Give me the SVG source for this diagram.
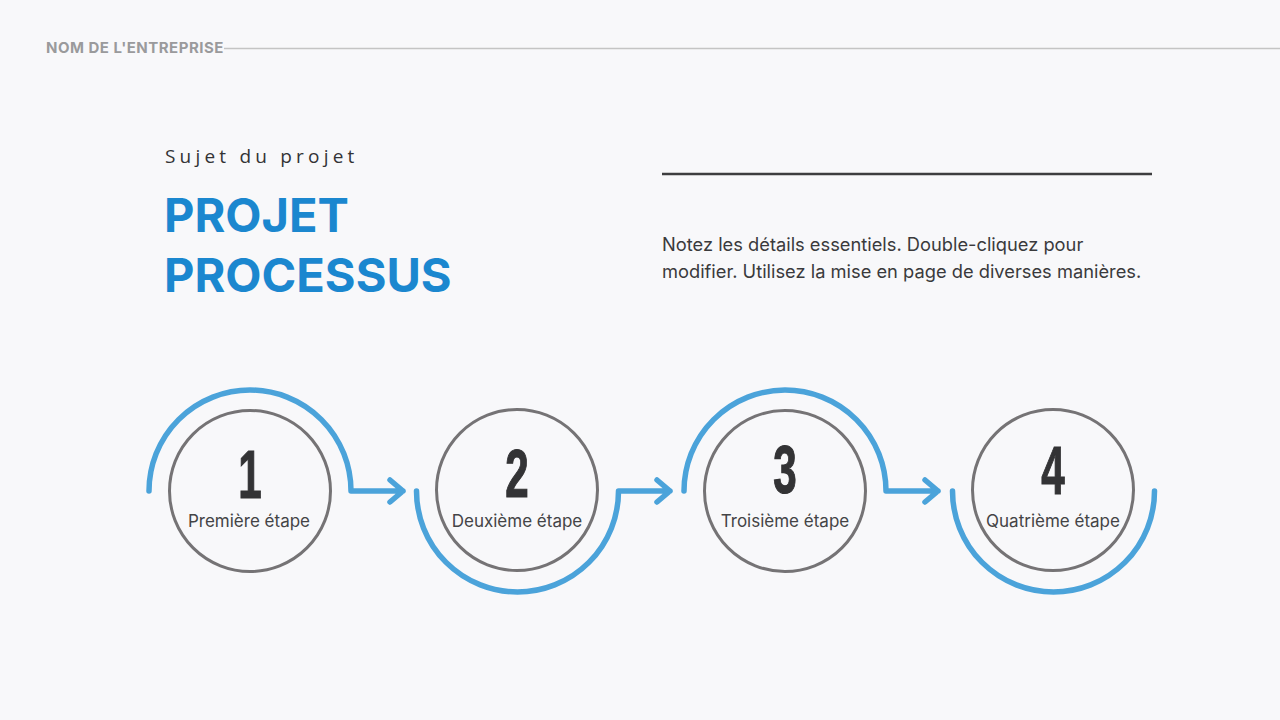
<svg xmlns="http://www.w3.org/2000/svg" width="1280" height="720" viewBox="0 0 1280 720">
<style>
.step{fill:none;stroke:#757375;stroke-width:3}
.flow{fill:none;stroke:#4BA3DA;stroke-width:5.5;stroke-linecap:round;stroke-linejoin:round}
.num{font-family:"Liberation Sans",Arial,sans-serif;font-weight:bold;font-size:68px;fill:#333335;text-anchor:middle;stroke:#333335;stroke-width:1.2}
.lbl{font-family:Inter,"Liberation Sans",sans-serif;font-size:17px;fill:#444446;text-anchor:middle}
</style>
<rect width="1280" height="720" fill="#F8F8FA"/>
<g id="header">
<line x1="224" y1="48.5" x2="1280" y2="48.5" stroke="#C4C4C4" stroke-width="1.6"/>
<text x="46" y="53" font-family="Inter,'Liberation Sans',sans-serif" font-weight="bold" font-size="15" letter-spacing="0.5" fill="#9A9A9C">NOM DE L'ENTREPRISE</text>
</g>
<g id="title">
<text x="165" y="163" font-family="'Open Sans','Liberation Sans',sans-serif" font-size="19" letter-spacing="4.2" fill="#333335">Sujet du projet</text>
<text x="164" y="232" font-family="Inter,'Liberation Sans',sans-serif" font-weight="bold" font-size="47" fill="#1B87CF">PROJET</text>
<text x="164" y="292" font-family="Inter,'Liberation Sans',sans-serif" font-weight="bold" font-size="47" fill="#1B87CF">PROCESSUS</text>
</g>
<g id="description">
<line x1="662" y1="174" x2="1152" y2="174" stroke="#3D3D3F" stroke-width="2.5"/>
<text font-family="Inter,'Liberation Sans',sans-serif" font-size="18.3" fill="#3A3A3C">
<tspan x="662" y="251">Notez les détails essentiels. Double-cliquez pour</tspan>
<tspan x="662" y="278">modifier. Utilisez la mise en page de diverses manières.</tspan>
</text>
</g>
<g id="connectors">
<path class="flow" d="M149,491 A101,101 0 0 1 351,491 L403,491 M390,480 L403,491 L390,502"/>
<path class="flow" d="M416.5,491 A101,101 0 0 0 618.5,491 L670,491 M657,480 L670,491 L657,502"/>
<path class="flow" d="M684,491 A101,101 0 0 1 886,491 L938,491 M925,480 L938,491 L925,502"/>
<path class="flow" d="M952.5,491 A101,101 0 0 0 1154.5,491"/>
</g>
<g id="step1">
<circle class="step" cx="250" cy="491" r="80.5"/>
<text class="num" transform="translate(250,498) scale(0.62,1)">1</text>
<text class="lbl" x="249" y="527">Première étape</text>
</g>
<g id="step2">
<circle class="step" cx="517" cy="490" r="80.5"/>
<text class="num" transform="translate(517,497) scale(0.62,1)">2</text>
<text class="lbl" x="517" y="527">Deuxième étape</text>
</g>
<g id="step3">
<circle class="step" cx="785" cy="491" r="80.5"/>
<text class="num" transform="translate(785,493) scale(0.62,1)">3</text>
<text class="lbl" x="785" y="527">Troisième étape</text>
</g>
<g id="step4">
<circle class="step" cx="1053" cy="490" r="80.5"/>
<text class="num" transform="translate(1053,494) scale(0.62,1)">4</text>
<text class="lbl" x="1053" y="527">Quatrième étape</text>
</g>
</svg>
